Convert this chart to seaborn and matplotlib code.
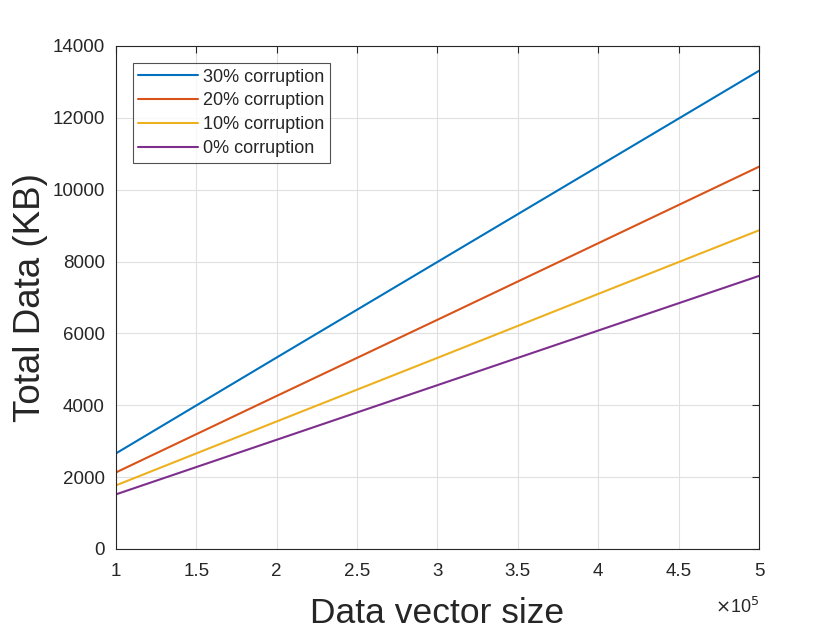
import numpy as np
import pandas as pd
import matplotlib
matplotlib.use('Agg')
import matplotlib.pyplot as plt
import seaborn as sns

# data (x in units of 1e5)
vector_size = [1, 2, 3, 4, 5]
corr_30 = [2660, 5330, 7990, 10650, 13310]
corr_20 = [2130, 4260, 6380, 8510, 10640]
corr_10 = [1770, 3550, 5320, 7100, 8870]
corr_0 = [1520, 3040, 4560, 6080, 7600]
labels = ['30% corruption', '20% corruption', '10% corruption', '0% corruption']
colors = ['#0072BD', '#D95319', '#EDB120', '#7E2F8E']

rows = []
for lab, vals in zip(labels, [corr_30, corr_20, corr_10, corr_0]):
    for x, v in zip(vector_size, vals):
        rows.append({'size': x, 'total': v, 'series': lab})
df = pd.DataFrame(rows)

sns.set_style('white')
plt.rcParams['font.family'] = ['Liberation Sans', 'DejaVu Sans']

fig = plt.figure(figsize=(8.4, 6.3), dpi=100)
ax = fig.add_axes([0.138, 0.1286, 0.7656, 0.7984])

sns.lineplot(data=df, x='size', y='total', hue='series', hue_order=labels,
             palette=colors, linewidth=1.5, ax=ax)

ax.set_xlim(1, 5)
ax.set_ylim(0, 14000)
ax.set_xticks(np.arange(1, 5.01, 0.5))
ax.set_xticklabels(['1', '1.5', '2', '2.5', '3', '3.5', '4', '4.5', '5'])
ax.set_yticks(np.arange(0, 14001, 2000))
ax.tick_params(direction='in', length=5, width=0.8, labelsize=13.5, colors='#262626',
               top=True, right=True, pad=8)
ax.tick_params(axis='x', pad=10)
ax.grid(True, color='#e0e0e0', linewidth=0.8)
for s in ax.spines.values():
    s.set_color('#262626')
    s.set_linewidth(0.8)

ax.set_xlabel('Data vector size', fontsize=25.5, color='#262626', labelpad=12)
ax.set_ylabel('Total Data (KB)', fontsize=26.5, color='#262626', labelpad=3)
ax.text(1.0, -0.095, r'$\times$10$^5$', transform=ax.transAxes, ha='right', va='top',
        fontsize=13, color='#262626')

leg = ax.legend(loc='upper left', bbox_to_anchor=(0.026, 0.966), borderaxespad=0,
                fontsize=13, frameon=True, fancybox=False, edgecolor='#262626',
                handlelength=3.3, handletextpad=0.3, borderpad=0.3, labelspacing=0.38)
leg.get_frame().set_linewidth(0.8)

fig.savefig('out.png', dpi=100)
